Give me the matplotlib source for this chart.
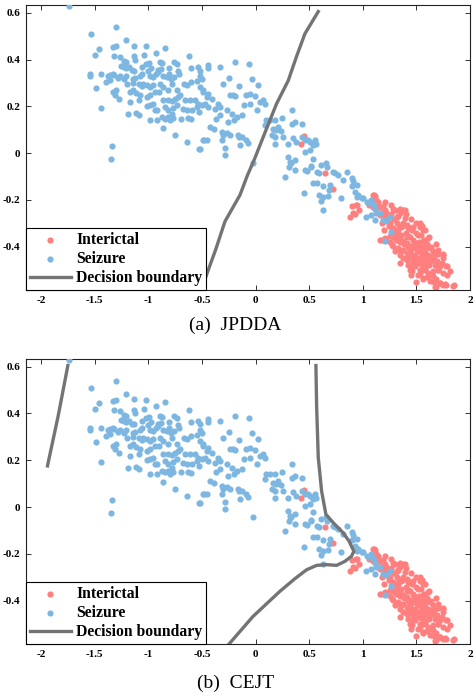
import matplotlib
matplotlib.use('Agg')
from matplotlib import pyplot as plt
import numpy as np

plt.rcParams['font.family'] = ['Liberation Serif', 'DejaVu Serif']
plt.rcParams['axes.unicode_minus'] = False

BLUE = '#7db7e1'
RED = '#ff7f7f'
GRAY = '#747474'

# Seizure points
seizure_x = [
    -1.74, -1.30, -1.53, -1.205, -1.46, -1.50, -1.33, -1.30, -1.13, -1.02,
    -0.84, -0.93, -1.04, -1.32, -1.26, -1.13, -1.12, -0.62, -1.23, -1.21,
    -0.99, -1.02, -0.89, -0.87, -0.76, -0.73, -1.25, -1.23, -1.21, -1.18,
    -1.15, -1.13, -1.06, -0.975, -1.0, -0.91, -0.885, -0.81, -0.81, -0.72,
    -0.715, -0.60, -0.54, -1.54, -1.54, -1.44, -1.38, -1.36, -1.33, -1.32,
    -1.39, -1.36, -1.285, -1.26, -1.23, -1.21, -1.145, -1.12, -1.08, -1.06,
    -0.98, -0.955, -0.93, -0.91, -0.86, -0.83, -0.79, -0.76, -0.67, -0.64,
    -0.60, -0.55, -1.49, -1.195, -1.14, -1.09, -1.06, -1.05, -1.015, -0.98,
    -0.955, -0.89, -0.86, -0.82, -0.775, -0.735, -0.705, -1.33, -1.30, -1.31,
    -1.27, -1.17, -1.14, -1.11, -1.08, -1.09, -1.17, -1.015, -0.985, -0.94,
    -0.90, -0.86, -0.82, -0.78, -0.75, -0.72, -0.66, -0.61, -0.565, -0.535,
    -1.44, -1.015, -0.985, -0.955, -0.915, -0.94, -0.845, -0.815, -0.77, -0.735,
    -0.675, -0.64, -0.595, -0.55, -0.525, -1.185, -1.115, -1.09, -0.875, -0.845,
    -0.815, -0.78, -0.80, -0.77, -0.98, -0.92, -0.695, -0.63, -0.60, -0.865,
    -0.75, -0.635, -0.53, -1.34, -1.35,
    -0.447, -0.44, -0.33, -0.19, -0.06, -0.52, -0.30, -0.15, -0.03, 0.025,
    -0.52, -0.49, -0.44, -0.455, -0.41, -0.50, -0.47, -0.44, -0.35, -0.33,
    -0.38, -0.24, -0.21, -0.19, -0.085, -0.05, -0.005, 0.04, 0.088, 0.07,
    -0.105, -0.05, 0.01, -0.27, -0.22, -0.175, -0.13, -0.365, -0.33, -0.255,
    -0.20, -0.425, -0.39, -0.315, -0.30, -0.27, -0.16, -0.13, -0.085, -0.07,
    -0.49, -0.455, -0.315, -0.145, -0.285, -0.285, -0.52, -0.02, 0.10, 0.135,
    0.088, 0.21, 0.195, 0.235, 0.18, 0.25, 0.34, 0.37, 0.34, 0.435,
    0.15, 0.26, 0.305, 0.18, 0.35, 0.38, 0.43, 0.46, 0.505, 0.535,
    0.55, 0.46, 0.505, 0.305, 0.32, 0.335, 0.365, 0.315, 0.365, 0.46,
    0.52, 0.275, 0.535,
    0.49, 0.565, 0.54, 0.54, 0.52, 0.48, 0.575, 0.595, 0.615, 0.66,
    0.67, 0.725, 0.74, 0.77, 0.85, 0.82, 0.895, 0.91, 0.57, 0.63,
    0.69, 0.685, 0.90, 0.945, 0.45, 0.595, 0.63, 0.68, 0.615, 0.80,
    0.925, 0.96, 0.99, 0.945, 0.625, 1.035, 1.06, 1.08, 1.105, 1.03,
    1.11, 1.125, 1.16, 1.19, 1.22, 1.0, 1.08, 1.08, 1.113, 1.25,
    1.26, 1.205,
    -0.248, -0.52, -0.50, -0.49, -0.48, -0.24, -0.15, 0.178, 0.16,
]
seizure_y = [
    0.628, 0.54, 0.51, 0.485, 0.443, 0.42, 0.455, 0.458, 0.46, 0.457,
    0.45, 0.43, 0.42, 0.415, 0.41, 0.414, 0.40, 0.417, 0.395, 0.39,
    0.384, 0.38, 0.39, 0.384, 0.39, 0.38, 0.374, 0.367, 0.365, 0.37,
    0.357, 0.353, 0.367, 0.363, 0.35, 0.357, 0.36, 0.363, 0.34, 0.35,
    0.34, 0.365, 0.37, 0.34, 0.33, 0.34, 0.33, 0.335, 0.34, 0.335,
    0.303, 0.313, 0.322, 0.328, 0.318, 0.328, 0.318, 0.322, 0.328, 0.34,
    0.33, 0.325, 0.34, 0.346, 0.33, 0.325, 0.318, 0.325, 0.297, 0.29,
    0.303, 0.31, 0.28, 0.297, 0.30, 0.297, 0.285, 0.297, 0.29, 0.282,
    0.29, 0.297, 0.282, 0.268, 0.297, 0.268, 0.25, 0.26, 0.268, 0.25,
    0.233, 0.26, 0.268, 0.257, 0.247, 0.225, 0.218, 0.24, 0.247, 0.26,
    0.26, 0.225, 0.228, 0.222, 0.233, 0.24, 0.225, 0.228, 0.228, 0.21,
    0.193, 0.20, 0.204, 0.21, 0.186, 0.183, 0.197, 0.183, 0.194, 0.204,
    0.19, 0.183, 0.186, 0.197, 0.176, 0.169, 0.171, 0.162, 0.154, 0.148,
    0.154, 0.169, 0.143, 0.152, 0.14, 0.143, 0.148, 0.152, 0.146, 0.108,
    0.078, 0.048, 0.018, 0.03, -0.027,
    0.376, 0.365, 0.367, 0.39, 0.38, 0.33, 0.294, 0.285, 0.318, 0.29,
    0.282, 0.26, 0.254, 0.24, 0.233, 0.204, 0.21, 0.197, 0.21, 0.197,
    0.19, 0.247, 0.25, 0.243, 0.247, 0.254, 0.243, 0.218, 0.21, 0.225,
    0.204, 0.21, 0.183, 0.183, 0.169, 0.154, 0.162, 0.148, 0.162, 0.133,
    0.14, 0.112, 0.105, 0.09, 0.077, 0.084, 0.077, 0.067, 0.055, 0.044,
    0.055, 0.058, 0.055, 0.034, 0.02, -0.009, 0.017, -0.044, 0.14, 0.14,
    0.12, 0.112, 0.098, 0.095, 0.069, 0.152, 0.183, 0.133, 0.123, 0.123,
    0.077, 0.067, 0.041, 0.038, 0.065, 0.048, 0.07, 0.055, 0.048, 0.041,
    0.055, 0.006, 0.013, -0.016, -0.037, -0.044, -0.03, -0.06, -0.072, -0.072,
    -0.058, -0.103, -0.129,
    0.055, 0.038, 0.034, -0.023, -0.054, -0.075, -0.08, -0.087, -0.051, -0.044,
    -0.061, -0.08, -0.087, -0.094, -0.08, -0.115, -0.108, -0.118, -0.129, -0.14,
    -0.136, -0.157, -0.14, -0.137, -0.169, -0.179, -0.186, -0.183, -0.203, -0.193,
    -0.165, -0.179, -0.193, -0.189, -0.245, -0.207, -0.214, -0.2, -0.221, -0.274,
    -0.24, -0.254, -0.256, -0.285, -0.292, -0.193, -0.207, -0.264, -0.285, -0.274,
    -0.339, -0.377,
    0.32, 0.353, 0.318, 0.268, 0.055, 0.077, 0.07, 0.14, 0.105,
]

# Interictal points
interictal_x = [
    0.45, 0.42, 0.645, 0.725, 1.11, 1.135, 1.06, 1.095, 0.895, 0.95,
    0.965, 0.925, 0.88, 0.91, 0.94, 1.097, 1.144, 1.206,
    1.104, 1.144, 1.19, 1.206, 1.284, 1.377, 1.159, 1.22, 1.315, 1.346,
    1.392, 1.175, 1.253, 1.315, 1.361, 1.408, 1.439, 1.47, 1.532, 1.548,
    1.563, 1.175, 1.221, 1.268, 1.315, 1.346, 1.377, 1.423, 1.47, 1.501,
    1.517, 1.563, 1.594, 1.61, 1.625, 1.656, 1.703, 1.75, 1.284, 1.33,
    1.377, 1.408, 1.439, 1.485, 1.517, 1.548, 1.579, 1.377, 1.423, 1.47,
    1.517, 1.563, 1.594, 1.625, 1.672, 1.718, 1.787, 1.812, 1.439, 1.485,
    1.532, 1.579, 1.61, 1.656, 1.703, 1.75, 1.563, 1.687, 1.718, 1.765,
    1.843, 1.672, 1.377, 1.284, 1.299, 1.253, 1.33, 1.408, 1.439, 1.47,
    1.501, 1.532, 1.439, 1.47, 1.548, 1.594, 1.61, 1.641, 1.563, 1.656,
    1.517, 1.423, 1.346,
    1.68, 1.718, 1.78, 1.75, 1.849, 1.787, 1.78, 1.744, 1.532, 1.548,
    1.392, 1.30, 1.16, 1.206, 1.346, 1.408, 1.47, 1.455, 1.532, 1.563,
    1.625, 1.656,
    1.33, 1.36, 1.40, 1.44, 1.48, 1.52, 1.55, 1.58, 1.46, 1.42,
    1.38, 1.35, 1.50, 1.53, 1.56, 1.60, 1.62, 1.58, 1.55, 1.48,
    1.45, 1.40, 1.36, 1.31, 1.27, 1.24, 1.29, 1.33, 1.37, 1.42,
    1.46, 1.50, 1.54, 1.57, 1.60, 1.64, 1.66, 1.69, 1.63, 1.66,
    1.60, 1.70, 1.74, 1.21, 1.18, 1.26, 1.28, 1.23, 1.34, 1.52,
    1.20, 1.25, 1.30, 1.35, 1.45, 1.50, 1.70, 1.75, 1.68, 1.62,
    1.58, 1.50, 1.45, 1.40, 1.35, 1.15, 1.12, 1.26, 1.41, 1.55,
]
interictal_y = [
    0.072, 0.037, -0.087, -0.155, -0.183, -0.207, -0.221, -0.231, -0.226, -0.221,
    -0.245, -0.261, -0.274, -0.257, -0.221, -0.179, -0.207, -0.207,
    -0.179, -0.231, -0.228, -0.243, -0.24, -0.243, -0.264, -0.257, -0.271, -0.257,
    -0.278, -0.299, -0.299, -0.299, -0.314, -0.306, -0.321, -0.314, -0.299, -0.314,
    -0.328, -0.373, -0.37, -0.392, -0.349, -0.363, -0.377, -0.356, -0.37, -0.392,
    -0.349, -0.377, -0.392, -0.363, -0.406, -0.42, -0.416, -0.43, -0.399, -0.406,
    -0.413, -0.427, -0.42, -0.434, -0.42, -0.441, -0.427, -0.448, -0.455, -0.463,
    -0.47, -0.455, -0.47, -0.463, -0.477, -0.484, -0.481, -0.505, -0.498, -0.484,
    -0.498, -0.491, -0.512, -0.505, -0.498, -0.512, -0.54, -0.54, -0.555, -0.558,
    -0.566, -0.572, -0.299, -0.321, -0.335, -0.356, -0.37, -0.385, -0.399, -0.406,
    -0.413, -0.399, -0.441, -0.441, -0.477, -0.441, -0.434, -0.441, -0.413, -0.455,
    -0.519, -0.477, -0.434,
    -0.57, -0.555, -0.562, -0.565, -0.565, -0.519, -0.484, -0.437, -0.314, -0.311,
    -0.243, -0.243, -0.373, -0.363, -0.413, -0.455, -0.484, -0.505, -0.512, -0.533,
    -0.548, -0.526,
    -0.33, -0.35, -0.34, -0.36, -0.38, -0.38, -0.40, -0.41, -0.40, -0.40,
    -0.39, -0.38, -0.45, -0.45, -0.46, -0.45, -0.48, -0.50, -0.50, -0.47,
    -0.43, -0.45, -0.42, -0.37, -0.33, -0.31, -0.28, -0.27, -0.31, -0.32,
    -0.33, -0.34, -0.35, -0.37, -0.39, -0.40, -0.44, -0.46, -0.52, -0.55,
    -0.53, -0.50, -0.47, -0.27, -0.25, -0.26, -0.36, -0.29, -0.31, -0.42,
    -0.33, -0.38, -0.42, -0.47, -0.52, -0.55, -0.43, -0.45, -0.39, -0.36,
    -0.33, -0.30, -0.28, -0.26, -0.24, -0.23, -0.20, -0.22, -0.36, -0.43,
]

# Decision boundaries
jpdda_bx = [0.585, 0.46, 0.38, 0.305, 0.196, 0.09, -0.005, -0.08, -0.145, -0.285, -0.37, -0.456, -0.50]
jpdda_by = [0.605, 0.51, 0.41, 0.31, 0.211, 0.09, -0.02, -0.10, -0.179, -0.292, -0.41, -0.519, -0.58]

cejt_left_bx = [-1.75, -1.84, -1.94]
cejt_left_by = [0.605, 0.39, 0.176]
cejt_bx = [0.563, 0.57, 0.585, 0.616, 0.656, 0.725, 0.817, 0.873, 0.917, 0.895,
           0.833, 0.756, 0.663, 0.57, 0.476, 0.367, 0.227, -0.025, -0.256]
cejt_by = [0.605, 0.426, 0.212, 0.069, -0.031, -0.067, -0.11, -0.146, -0.189, -0.21,
           -0.232, -0.249, -0.246, -0.249, -0.268, -0.306, -0.36, -0.468, -0.59]

x_ticks = [-2, -1.5, -1, -0.5, 0, 0.5, 1, 1.5, 2]
x_labels = ['-2', '-1.5', '-1', '-0.5', '0', '0.5', '1', '1.5', '2']
y_ticks = [-0.4, -0.2, 0, 0.2, 0.4, 0.6]
y_labels = ['-0.4', '-0.2', '0', '0.2', '0.4', '0.6']


def draw_panel(ax, boundaries, caption, cap_y):
    ax.scatter(interictal_x, interictal_y, s=20, color=RED, linewidths=0,
               label='Interictal', zorder=2)
    ax.scatter(seizure_x, seizure_y, s=20, color=BLUE, linewidths=0,
               label='Seizure', zorder=3)
    for i, (bx, by) in enumerate(boundaries):
        ax.plot(bx, by, color=GRAY, linewidth=2.4, zorder=4,
                label='Decision boundary' if i == 0 else None)
    ax.set_xlim(-2.14, 2.0)
    ax.set_ylim(-0.585, 0.633)
    ax.set_xticks(x_ticks)
    ax.set_xticklabels(x_labels)
    ax.set_yticks(y_ticks)
    ax.set_yticklabels(y_labels)
    ax.tick_params(direction='in', top=True, right=True, length=3.5, width=0.7,
                   labelsize=8, pad=4, color='#333333')
    for lbl in ax.get_xticklabels() + ax.get_yticklabels():
        lbl.set_fontweight('bold')
    for sp in ax.spines.values():
        sp.set_linewidth(0.8)
        sp.set_color('#222222')
    leg = ax.legend(loc='lower left', borderaxespad=0, fancybox=False,
                    edgecolor='black', framealpha=1, scatterpoints=1,
                    handlelength=2.6, handletextpad=0.35, labelspacing=0.2,
                    borderpad=0.25, prop={'weight': 'bold', 'size': 11.3})
    leg.get_frame().set_linewidth(0.8)
    leg.set_zorder(10)
    ax.figure.text(0.497, cap_y, caption, ha='center', va='center', fontsize=14)


fig = plt.figure(figsize=(4.74, 6.98), dpi=100)
ax_a = fig.add_axes([0.0549, 0.5845, 0.9367, 0.4083])
ax_b = fig.add_axes([0.0549, 0.0774, 0.9367, 0.4083])

draw_panel(ax_a, [(jpdda_bx, jpdda_by)], '(a)  JPDDA', 0.534)
draw_panel(ax_b, [(cejt_bx, cejt_by), (cejt_left_bx, cejt_left_by)], '(b)  CEJT', 0.0215)

plt.savefig('out.png', dpi=100)
